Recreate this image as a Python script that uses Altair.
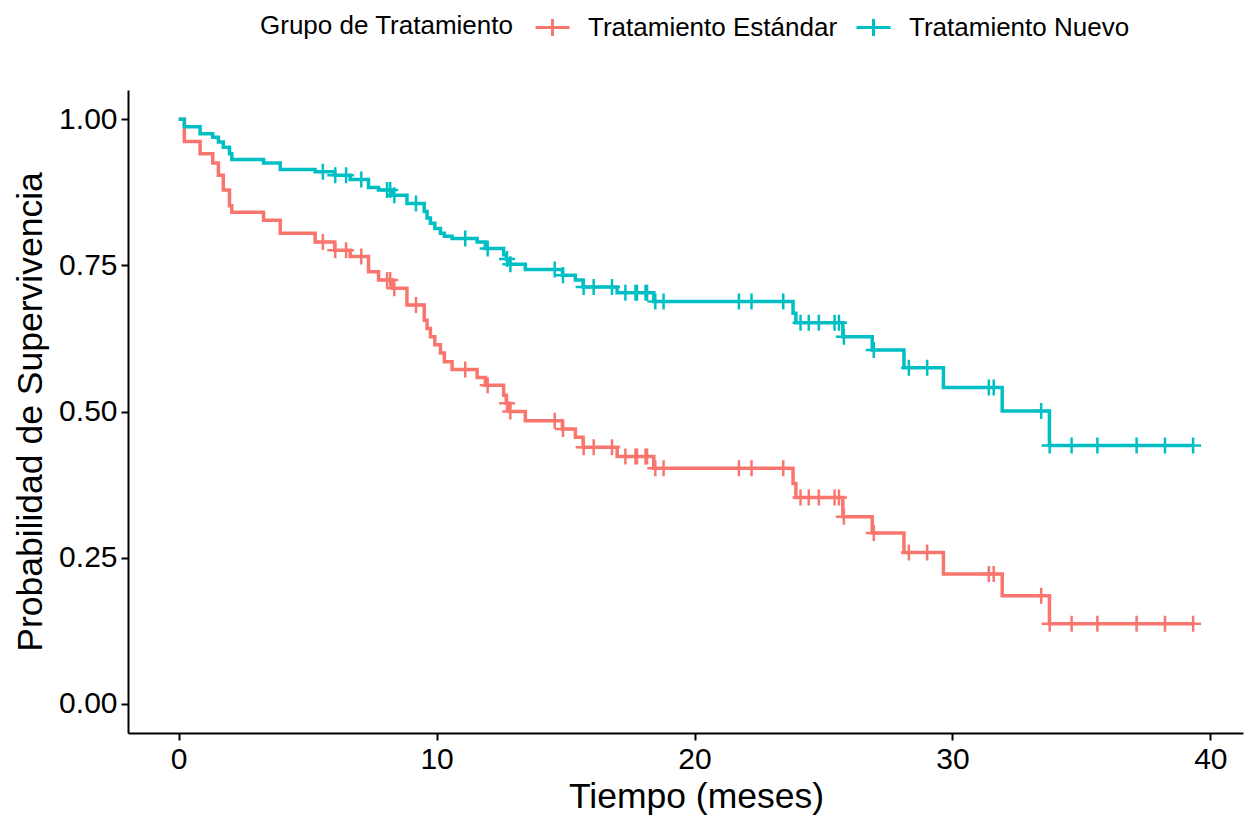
import altair as alt
import pandas as pd

# Kaplan-Meier step estimates by treatment group (months, survival probability)
event_times = [0.00, 0.22, 0.83, 1.32, 1.54, 1.73, 1.97, 2.06, 3.29, 3.94,
               5.29, 6.05, 6.65, 7.36, 7.75, 8.30, 8.85, 9.52, 9.63, 9.76,
               9.93, 10.15, 10.30, 10.60, 11.57, 11.89, 12.60, 12.70, 12.83, 13.44,
               14.88, 15.38, 15.68, 17.00, 18.42, 23.82, 23.93, 25.75, 26.89, 28.12,
               29.65, 31.93, 33.76]
surv_estandar = [1.000, 0.962, 0.941, 0.925, 0.904, 0.879, 0.852, 0.841, 0.827, 0.805,
                 0.790, 0.776, 0.765, 0.739, 0.725, 0.711, 0.682, 0.656, 0.642, 0.628,
                 0.614, 0.600, 0.585, 0.572, 0.558, 0.545, 0.528, 0.514, 0.500, 0.484,
                 0.470, 0.456, 0.439, 0.423, 0.403, 0.377, 0.353, 0.320, 0.292, 0.259,
                 0.222, 0.185, 0.137]
surv_nuevo = [1.000, 0.987, 0.975, 0.969, 0.961, 0.952, 0.941, 0.931, 0.925, 0.914,
              0.910, 0.904, 0.897, 0.883, 0.879, 0.870, 0.856, 0.842, 0.831, 0.822,
              0.813, 0.805, 0.800, 0.796, 0.790, 0.779, 0.768, 0.761, 0.752, 0.743,
              0.733, 0.725, 0.713, 0.703, 0.688, 0.668, 0.652, 0.628, 0.605, 0.575,
              0.541, 0.501, 0.442]

# Censored observations (months)
censor_times = [5.59, 6.07, 6.49, 7.08, 8.08, 8.20, 8.36, 9.20, 11.11, 11.98,
                12.73, 12.86, 14.58, 14.90, 15.70, 16.09, 16.80, 17.32, 17.71, 17.77,
                18.10, 18.16, 18.48, 18.80, 21.72, 22.21, 23.44, 24.11, 24.43, 24.82,
                25.43, 25.60, 25.79, 26.95, 28.31, 29.02, 31.41, 31.60, 33.44, 33.77,
                34.62, 35.62, 37.14, 38.24, 39.33]
last_followup = 39.33

groups = ["Tratamiento Estándar", "Tratamiento Nuevo"]
colors = ["#F8766D", "#00BFC4"]
FONT = "Liberation Sans"


def level_at(times, levels, t):
    lvl = levels[0]
    for ti, li in zip(times, levels):
        if ti <= t:
            lvl = li
        else:
            break
    return lvl


step_rows, censor_rows = [], []
for g, levels in zip(groups, [surv_estandar, surv_nuevo]):
    for t, s in zip(event_times, levels):
        step_rows.append({"grupo": g, "tiempo": t, "surv": s})
    step_rows.append({"grupo": g, "tiempo": last_followup, "surv": levels[-1]})
    for c in censor_times:
        censor_rows.append({"grupo": g, "tiempo": c,
                            "surv": level_at(event_times, levels, c)})

steps = pd.DataFrame(step_rows)
censored = pd.DataFrame(censor_rows)

x = alt.X("tiempo:Q",
          scale=alt.Scale(domain=[-1.965, 41.265], nice=False, zero=False),
          axis=alt.Axis(values=[0, 10, 20, 30, 40], title="Tiempo (meses)",
                        titleX=568, titlePadding=5, labelPadding=4))
y = alt.Y("surv:Q",
          scale=alt.Scale(domain=[-0.05, 1.05], nice=False, zero=False),
          axis=alt.Axis(values=[0, 0.25, 0.5, 0.75, 1.0], format=".2f",
                        title="Probabilidad de Supervivencia",
                        titlePadding=10, labelPadding=4))
color = alt.Color("grupo:N",
                  scale=alt.Scale(domain=groups, range=colors),
                  legend=alt.Legend(title="Grupo de Tratamiento",
                                    orient="none", legendX=132, legendY=-81,
                                    direction="horizontal", titleOrient="left",
                                    titleBaseline="middle",
                                    symbolType="M-1,0L1,0M0,-0.5L0,0.5",
                                    symbolSize=1156, symbolStrokeWidth=3,
                                    symbolFillColor="transparent",
                                    labelOffset=17, columnPadding=12,
                                    titlePadding=20, labelLimit=500, titleLimit=500))

lines = alt.Chart(steps).mark_line(interpolate="step-after", strokeWidth=3.5).encode(
    x=x, y=y, color=color)

ticks = alt.Chart(censored).mark_point(
    shape="M-1,0L1,0M0,-1L0,1", size=256, filled=False, strokeWidth=2.5, opacity=1
).encode(x=x, y=y, color=color)

chart = (lines + ticks).properties(
    width=1115, height=643,
    autosize="none",
    padding={"left": 128, "top": 90, "right": 11, "bottom": 83},
).configure_view(stroke=None).configure_axis(
    grid=False, domainColor="black", domainWidth=2, tickColor="black",
    tickWidth=2, tickSize=7, labelFont=FONT, labelFontSize=30,
    labelColor="black", titleFont=FONT, titleFontSize=35.5,
    titleFontWeight="normal", titleColor="black",
).configure_legend(
    labelFont=FONT, labelFontSize=26, labelColor="black",
    titleFont=FONT, titleFontSize=26, titleFontWeight="normal", titleColor="black",
)

chart.save("out.html", embed_options={"renderer": "svg", "actions": False})
